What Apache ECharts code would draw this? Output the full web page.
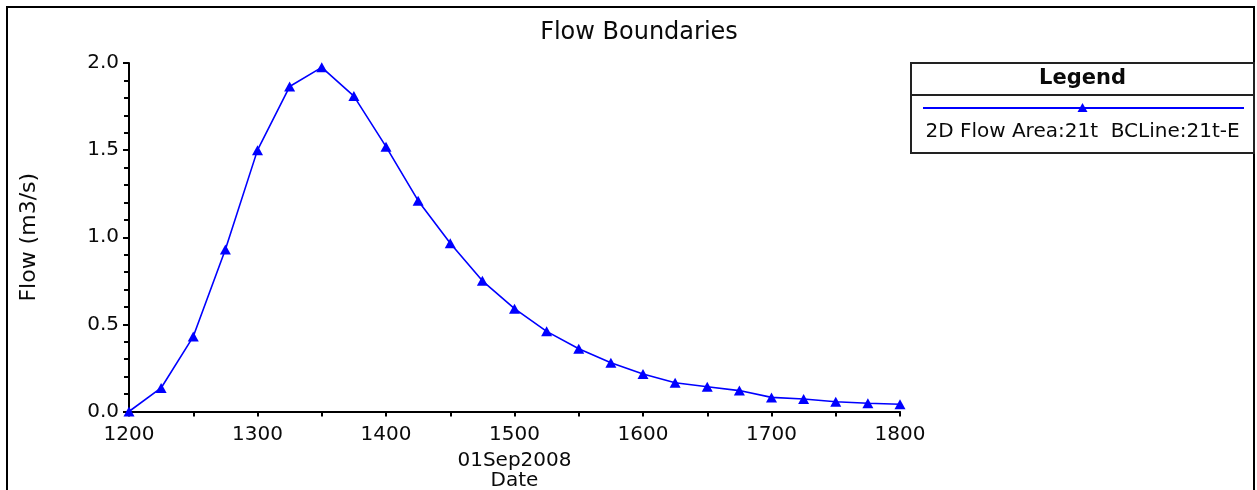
<!DOCTYPE html>
<html>
<head>
<meta charset="utf-8">
<title>Flow Boundaries</title>
<script src="https://cdn.jsdelivr.net/npm/echarts@6/dist/echarts.min.js"></script>
<style>
  html, body { margin: 0; padding: 0; background: #ffffff; }
  #chart { width: 1257px; height: 490px; }
</style>
</head>
<body>
<div id="chart"></div>
<script>
// Time stamps (HHMM) on 01Sep2008, every 15 minutes
const times = ['1200','1215','1230','1245','1300','1315','1330','1345','1400','1415','1430','1445',
               '1500','1515','1530','1545','1600','1615','1630','1645','1700','1715','1730','1745','1800'];
// Flow (m3/s) across the boundary condition line
const flow = [0.0, 0.135, 0.43, 0.93, 1.50, 1.865, 1.975, 1.81, 1.52, 1.21, 0.965, 0.75,
              0.59, 0.46, 0.36, 0.28, 0.215, 0.165, 0.142, 0.12, 0.081, 0.072, 0.056, 0.047, 0.042];
const seriesName = '2D Flow Area:21t  BCLine:21t-E';
const titleText = 'Flow Boundaries';
const yAxisName = 'Flow (m3/s)';
const xAxisName = '01Sep2008\nDate';

const FONT = 'DejaVu Sans';
const BLUE = '#0000ff';
const INK = '#0a0a0a';

const chart = echarts.init(document.getElementById('chart'), null, { renderer: 'canvas' });

// Legend panel: framed box with a header row, then a line sample and the series name
const lg = { x: 911, y: 63, w: 343, h: 90, headH: 32 };
const lgMidX = lg.x + lg.w / 2;

chart.setOption({
  backgroundColor: '#ffffff',
  animation: false,
  title: {
    text: titleText,
    left: 634,
    top: 16,
    textAlign: 'center',
    textStyle: { fontFamily: FONT, fontSize: 24, fontWeight: 'normal', color: INK }
  },
  grid: {
    left: 129, right: 357, top: 63, bottom: 78.5,
    containLabel: false,
    outerBoundsMode: 'none'
  },
  xAxis: {
    type: 'category',
    data: times,
    boundaryGap: false,
    name: xAxisName,
    nameLocation: 'middle',
    nameGap: 39,
    nameTextStyle: { fontFamily: FONT, fontSize: 20, color: INK, lineHeight: 20 },
    axisLine: { lineStyle: { color: '#000000', width: 2 } },
    axisTick: { show: true, interval: 1, length: 5, lineStyle: { color: '#000000', width: 2 } },
    axisLabel: { interval: 3, margin: 13, fontFamily: FONT, fontSize: 20, color: INK },
    splitLine: { show: false }
  },
  yAxis: {
    type: 'value',
    min: 0,
    max: 2.0,
    interval: 0.5,
    name: yAxisName,
    nameLocation: 'middle',
    nameGap: 89,
    nameRotate: 90,
    nameTextStyle: { fontFamily: FONT, fontSize: 22, color: INK },
    axisLine: { show: true, lineStyle: { color: '#000000', width: 2 } },
    axisTick: { show: true, length: 6, lineStyle: { color: '#000000', width: 2 } },
    minorTick: { show: true, splitNumber: 5, length: 5, lineStyle: { color: '#000000', width: 2 } },
    axisLabel: {
      margin: 10,
      fontFamily: FONT,
      fontSize: 20,
      color: INK,
      formatter: v => v.toFixed(1)
    },
    splitLine: { show: false }
  },
  series: [{
    name: seriesName,
    type: 'line',
    data: flow,
    symbol: 'triangle',
    symbolSize: [11, 10],
    showAllSymbol: true,
    lineStyle: { color: BLUE, width: 1.6 },
    itemStyle: { color: BLUE },
    clip: false
  }],
  graphic: [
    // outer frame
    {
      type: 'rect',
      shape: { x: 7, y: 7, width: 1247, height: 500 },
      style: { fill: null, stroke: '#000000', lineWidth: 2 },
      silent: true
    },
    // legend box
    {
      type: 'rect',
      shape: { x: lg.x, y: lg.y, width: lg.w, height: lg.h },
      style: { fill: '#ffffff', stroke: '#222222', lineWidth: 2 },
      silent: true
    },
    {
      type: 'line',
      shape: { x1: lg.x, y1: lg.y + lg.headH, x2: lg.x + lg.w, y2: lg.y + lg.headH },
      style: { stroke: '#222222', lineWidth: 2 },
      silent: true
    },
    {
      type: 'text',
      x: lgMidX,
      y: lg.y + lg.headH / 2,
      style: {
        text: 'Legend', fontFamily: FONT, fontSize: 21, fontWeight: 'bold',
        fill: INK, align: 'center', verticalAlign: 'middle'
      },
      silent: true
    },
    {
      type: 'line',
      shape: { x1: 923, y1: 108, x2: 1244, y2: 108 },
      style: { stroke: BLUE, lineWidth: 2 },
      silent: true
    },
    {
      type: 'polygon',
      shape: { points: [[lgMidX - 5, 112], [lgMidX + 5, 112], [lgMidX, 103]] },
      style: { fill: BLUE },
      silent: true
    },
    {
      type: 'text',
      x: lgMidX,
      y: 132,
      style: {
        text: seriesName, fontFamily: FONT, fontSize: 20,
        fill: INK, align: 'center', verticalAlign: 'middle'
      },
      silent: true
    }
  ]
});
</script>
</body>
</html>
